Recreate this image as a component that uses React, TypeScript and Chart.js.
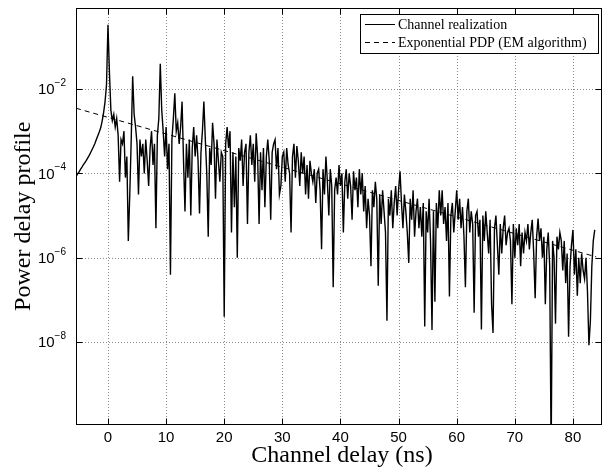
import React, { useEffect, useRef } from 'react';
import { Chart, registerables } from 'chart.js';

Chart.register(...registerables);

// Axis ranges and ticks
const X_MIN = -5.5;
const X_MAX = 85;
const Y_MIN = 1.12e-10;
const Y_MAX = 0.83;
const xTickValues = [0, 10, 20, 30, 40, 50, 60, 70, 80];
const xTickLabels = ['0', '10', '20', '30', '40', '50', '60', '70', '80'];
const yTickExponents = [-2, -4, -6, -8];

const xTitle = 'Channel delay (ns)';
const yTitle = 'Power delay profile';
const legendLabels = ['Channel realization', 'Exponential PDP (EM algorithm)'];

// Channel realization: delay grid start / spacing (ns), values as log10(power)
const sampleStart = -5.5;
const sampleStep = 0.25;
const preCursorLog10 = [
  -4.08, -4.02, -3.97, -3.91, -3.86, -3.80, -3.75, -3.70, -3.64, -3.58, -3.51,
  -3.44, -3.37, -3.29, -3.20, -3.11, -3.02, -2.92, -2.76, -2.56, -2.30, -1.90,
];
const log0to10 = [
  -0.48, -1.60, -2.50, -2.75, -2.60, -2.90, -2.70, -3.10, -4.20, -3.20, -3.30, -3.00,
  -4.10, -3.60, -5.60, -4.50, -3.20, -1.70, -2.60, -2.90, -3.30, -4.50, -3.20, -3.60,
  -3.30, -4.00, -3.20, -3.70, -4.30, -3.40, -3.00, -3.80, -3.30, -5.30, -3.10, -2.70,
  -1.40, -2.50, -3.00, -3.60,
];
const log10to20 = [
  -2.90, -3.90, -3.30, -6.40, -3.20, -2.70, -2.10, -3.00, -2.80, -3.30, -2.90, -2.30,
  -3.70, -4.90, -3.30, -4.10, -3.20, -5.00, -3.40, -2.90, -3.60, -3.10, -3.70, -4.95,
  -3.50, -3.00, -2.30, -3.20, -4.00, -5.50, -3.40, -3.80, -2.80, -3.30, -4.60, -3.20,
  -3.70, -4.20, -3.50, -3.60,
];
const log20to30 = [
  -7.40, -3.30, -2.90, -3.40, -3.00, -5.40, -3.50, -4.80, -3.60, -6.00, -3.40, -3.70,
  -3.20, -4.30, -3.50, -3.30, -5.20, -3.50, -3.10, -3.80, -3.30, -4.20, -3.05, -3.60,
  -5.20, -3.50, -4.40, -3.40, -4.80, -3.60, -3.20, -3.70, -5.10, -3.50, -3.30, -3.20,
  -3.90, -3.40, -4.50, -4.30,
];
const log30to40 = [
  -3.60, -3.50, -4.20, -3.40, -3.80, -4.00, -5.40, -3.60, -3.30, -4.10, -3.35, -3.70,
  -4.30, -3.50, -4.00, -3.60, -4.50, -3.80, -4.60, -3.70, -4.00, -4.20, -3.90, -4.70,
  -4.00, -3.90, -4.40, -5.80, -3.90, -4.50, -3.60, -4.20, -5.00, -3.90, -4.30, -6.70,
  -4.40, -4.10, -4.50, -3.80,
];
const log40to50 = [
  -4.30, -4.00, -5.40, -4.20, -3.90, -4.60, -4.00, -4.30, -5.10, -3.95, -4.40, -4.10,
  -4.80, -3.90, -4.50, -4.00, -4.90, -4.30, -5.30, -4.60, -5.00, -6.20, -4.40, -4.80,
  -4.20, -4.60, -6.66, -4.50, -5.20, -4.40, -4.90, -5.40, -7.49, -4.60, -5.00, -4.40,
  -5.30, -4.70, -4.30, -5.00,
];
const log50to60 = [
  -4.40, -3.95, -4.70, -5.30, -4.50, -4.90, -5.40, -6.12, -4.60, -5.10, -4.40, -5.50,
  -4.90, -4.60, -5.30, -4.80, -5.50, -4.70, -7.63, -4.90, -5.40, -4.60, -5.60, -7.71,
  -4.90, -7.04, -4.70, -5.30, -4.40, -5.00, -4.40, -5.20, -4.80, -5.60, -4.70, -6.92,
  -5.00, -4.70, -5.40, -4.90,
];
const log60to70 = [
  -4.40, -5.10, -4.60, -5.30, -4.80, -5.50, -6.70, -4.90, -4.60, -5.40, -4.90, -5.20,
  -7.30, -5.00, -4.90, -5.50, -5.10, -7.70, -5.00, -5.60, -4.90, -5.40, -5.90, -5.10,
  -7.10, -7.78, -5.30, -5.00, -5.70, -6.40, -5.20, -5.90, -5.30, -5.00, -5.70, -5.40,
  -5.30, -5.60, -7.10, -5.20,
];
const log70to80 = [
  -6.00, -5.30, -5.70, -5.20, -6.20, -5.40, -5.90, -5.40, -5.60, -5.20, -5.80, -5.40,
  -5.10, -5.90, -6.96, -5.50, -5.07, -5.60, -5.30, -6.00, -5.50, -7.10, -5.80, -5.40,
  -6.20, -10.60, -5.60, -6.00, -7.56, -5.50, -5.80, -5.40, -5.60, -6.30, -5.60, -6.60,
  -5.90, -7.87, -6.20, -5.70,
];
const log80to84 = [
  -5.34, -6.40, -5.80, -6.90, -6.00, -6.60, -5.90, -6.30, -6.50, -6.00, -6.80, -8.07,
  -7.50, -6.20, -5.60, -5.34,
];

// Exponential PDP fit (straight on a log axis): end points
const pdpDelays = [-5.5, 84];
const pdpValues = [3.5e-3, 1.05e-6];

const SANS = '"Liberation Sans", Arial, sans-serif';
const SERIF = '"Liberation Serif", "Times New Roman", serif';

const decorPlugin = {
  id: 'decor',
  beforeDatasetsDraw(chart: any) {
    const { ctx, chartArea: a, scales } = chart;
    const xs = scales.x;
    const ys = scales.y;
    ctx.save();
    ctx.strokeStyle = '#8a8a8a';
    ctx.lineWidth = 1;
    ctx.setLineDash([1, 2]);
    xTickValues.forEach((v) => {
      const px = Math.round(xs.getPixelForValue(v)) + 0.5;
      ctx.beginPath();
      ctx.moveTo(px, a.top);
      ctx.lineTo(px, a.bottom);
      ctx.stroke();
    });
    yTickExponents.forEach((e) => {
      const py = Math.round(ys.getPixelForValue(Math.pow(10, e))) + 0.5;
      ctx.beginPath();
      ctx.moveTo(a.left, py);
      ctx.lineTo(a.right, py);
      ctx.stroke();
    });
    ctx.restore();
  },
  afterDatasetsDraw(chart: any) {
    const { ctx, chartArea: a, scales } = chart;
    const xs = scales.x;
    const ys = scales.y;
    ctx.save();
    ctx.setLineDash([]);
    ctx.strokeStyle = '#000';
    ctx.lineWidth = 1;
    const L = Math.round(a.left) + 0.5;
    const R = Math.round(a.right) - 0.5;
    const T = Math.round(a.top) + 0.5;
    const B = Math.round(a.bottom) - 0.5;
    ctx.strokeRect(L, T, R - L, B - T);

    const tl = 6;
    xTickValues.forEach((v) => {
      const px = Math.round(xs.getPixelForValue(v)) + 0.5;
      ctx.beginPath();
      ctx.moveTo(px, B);
      ctx.lineTo(px, B - tl);
      ctx.moveTo(px, T);
      ctx.lineTo(px, T + tl);
      ctx.stroke();
    });
    yTickExponents.forEach((e) => {
      const py = Math.round(ys.getPixelForValue(Math.pow(10, e))) + 0.5;
      ctx.beginPath();
      ctx.moveTo(L, py);
      ctx.lineTo(L + tl, py);
      ctx.moveTo(R, py);
      ctx.lineTo(R - tl, py);
      ctx.stroke();
    });

    // tick labels
    ctx.fillStyle = '#000';
    ctx.font = `15px ${SANS}`;
    ctx.textAlign = 'center';
    ctx.textBaseline = 'middle';
    xTickValues.forEach((v, i) => {
      const px = xs.getPixelForValue(v);
      ctx.fillText(xTickLabels[i], px, a.bottom + 13);
    });
    yTickExponents.forEach((e) => {
      const py = ys.getPixelForValue(Math.pow(10, e));
      const exp = '\u2212' + String(Math.abs(e));
      ctx.font = `10px ${SANS}`;
      const wExp = ctx.measureText(exp).width;
      ctx.font = `15px ${SANS}`;
      const wBase = ctx.measureText('10').width;
      const right = a.left - 10;
      ctx.textAlign = 'left';
      ctx.fillText('10', right - wExp - wBase, py + 1);
      ctx.font = `10px ${SANS}`;
      ctx.fillText(exp, right - wExp, py - 6);
    });

    // axis titles
    ctx.font = `24px ${SERIF}`;
    ctx.textAlign = 'center';
    ctx.textBaseline = 'alphabetic';
    ctx.fillText(xTitle, (a.left + a.right) / 2 + 3, 462);
    ctx.save();
    ctx.translate(30, (a.top + a.bottom) / 2);
    ctx.rotate(-Math.PI / 2);
    ctx.fillText(yTitle, 0, 0);
    ctx.restore();

    // legend
    const bx = 360, by = 14, bw = 238, bh = 39;
    ctx.fillStyle = '#fff';
    ctx.fillRect(bx, by, bw, bh);
    ctx.strokeStyle = '#000';
    ctx.lineWidth = 1;
    ctx.strokeRect(bx + 0.5, by + 0.5, bw, bh);
    const rows = [by + 10, by + 28];
    ctx.font = `14px ${SERIF}`;
    ctx.textAlign = 'left';
    ctx.textBaseline = 'middle';
    rows.forEach((ry, i) => {
      ctx.beginPath();
      ctx.setLineDash(i === 0 ? [] : [5, 4]);
      ctx.moveTo(bx + 5, ry + 0.5);
      ctx.lineTo(bx + 35, ry + 0.5);
      ctx.stroke();
      ctx.setLineDash([]);
      ctx.fillStyle = '#000';
      ctx.fillText(legendLabels[i], bx + 38, ry + 1);
    });
    ctx.restore();
  },
};

export default function App() {
  const canvasRef = useRef<HTMLCanvasElement | null>(null);

  useEffect(() => {
    const canvas = canvasRef.current;
    if (!canvas) return;
    const realizationLog10 = [
      ...preCursorLog10, ...log0to10, ...log10to20, ...log20to30, ...log30to40,
      ...log40to50, ...log50to60, ...log60to70, ...log70to80, ...log80to84,
    ];
    const realization = realizationLog10.map((e, i) => ({
      x: sampleStart + i * sampleStep,
      y: Math.pow(10, e),
    }));
    const pdp = pdpDelays.map((d, i) => ({ x: d, y: pdpValues[i] }));

    const chart = new Chart(canvas, {
      type: 'line',
      data: {
        datasets: [
          {
            label: legendLabels[0],
            data: realization,
            borderColor: '#000',
            borderWidth: 1.4,
            pointRadius: 0,
            tension: 0,
            fill: false,
          },
          {
            label: legendLabels[1],
            data: pdp,
            borderColor: '#000',
            borderWidth: 1,
            borderDash: [5, 4],
            pointRadius: 0,
            tension: 0,
            fill: false,
          },
        ],
      },
      options: {
        responsive: false,
        animation: false,
        devicePixelRatio: 1,
        layout: { padding: { left: 76, top: 8, right: 3, bottom: 42.5 } },
        plugins: { legend: { display: false }, tooltip: { enabled: false } },
        scales: {
          x: { type: 'linear', min: X_MIN, max: X_MAX, display: false },
          y: { type: 'logarithmic', min: Y_MIN, max: Y_MAX, display: false },
        },
      },
      plugins: [decorPlugin],
    });
    return () => chart.destroy();
  }, []);

  return (
    <div style={{ position: 'fixed', left: 0, top: 0, width: 605, height: 467, background: '#fff' }}>
      <canvas ref={canvasRef} width={605} height={467} />
    </div>
  );
}
